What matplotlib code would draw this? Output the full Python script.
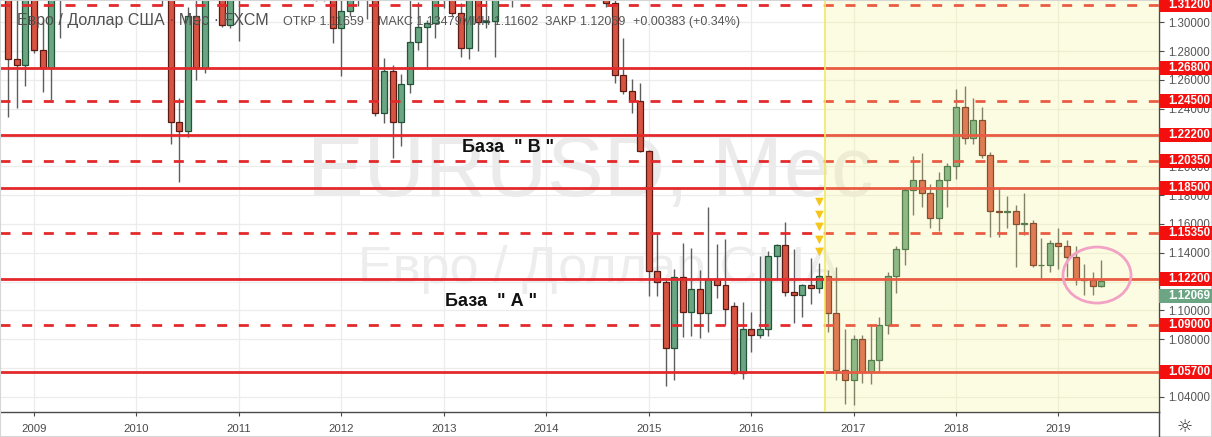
import matplotlib
matplotlib.use('Agg')
import matplotlib.pyplot as plt
import matplotlib.transforms as mtransforms
from matplotlib.patches import Rectangle, Ellipse
from matplotlib.lines import Line2D
import numpy as np
import pandas as pd

plt.rcParams['font.family'] = ['Liberation Sans', 'DejaVu Sans']
plt.rcParams['lines.scale_dashes'] = False

W, H = 1212, 437

# ---------------- data (monthly EURUSD, Oct 2008 .. Jun 2019) ----------------
months = pd.period_range('2008-10', '2019-06', freq='M')

open_ = [
    1.4078, 1.2745, 1.2700,
    1.3971, 1.2807, 1.2682, 1.3248, 1.3232, 1.4151, 1.4030, 1.4250, 1.4332, 1.4637, 1.4716, 1.5011,
    1.4331, 1.3864, 1.3627, 1.3509, 1.3294, 1.2307, 1.2244, 1.3043, 1.2682, 1.3630, 1.3935, 1.2982,
    1.3379, 1.3690, 1.3808, 1.4165, 1.4808, 1.4392, 1.4500, 1.4390, 1.4370, 1.3386, 1.3850, 1.3445,
    1.2961, 1.3078, 1.3316, 1.3343, 1.3236, 1.2370, 1.2661, 1.2307, 1.2571, 1.2863, 1.2967, 1.2994,
    1.3194, 1.3578, 1.3064, 1.2821, 1.3165, 1.2999, 1.3010, 1.3302, 1.3222, 1.3526, 1.3581, 1.3590,
    1.3745, 1.3485, 1.3802, 1.3770, 1.3869, 1.3634, 1.3692, 1.3389, 1.3131, 1.2634, 1.2522, 1.2453,
    1.2106, 1.1274, 1.1195, 1.0737, 1.1231, 1.0987, 1.1146, 1.0983, 1.1216, 1.1177, 1.1030, 1.0563,
    1.0868, 1.0831, 1.0872, 1.1379, 1.1452, 1.1130, 1.1104, 1.1174, 1.1157, 1.1240, 1.0980, 1.0586,
    1.0517, 1.0798, 1.0575, 1.0652, 1.0896, 1.1240, 1.1426, 1.1838, 1.1907, 1.1812, 1.1644, 1.1904,
    1.2005, 1.2414, 1.2194, 1.2323, 1.2079, 1.1693, 1.1686, 1.1690, 1.1602, 1.1605, 1.1313, 1.1317,
    1.1467, 1.1448, 1.1370, 1.1218, 1.1214, 1.1166,
]
high = [
    1.4300, 1.3300, 1.4719,
    1.4080, 1.3024, 1.3737, 1.3440, 1.4168, 1.4334, 1.4300, 1.4447, 1.4843, 1.5062, 1.5144, 1.5140,
    1.4579, 1.3988, 1.3819, 1.3693, 1.3389, 1.2474, 1.3105, 1.3333, 1.3651, 1.4159, 1.4282, 1.3499,
    1.3754, 1.3862, 1.4247, 1.4881, 1.4940, 1.4700, 1.4580, 1.4550, 1.4548, 1.4195, 1.3874, 1.3548,
    1.3234, 1.3487, 1.3386, 1.3348, 1.3283, 1.2751, 1.2700, 1.2640, 1.3171, 1.3140, 1.3013, 1.3308,
    1.3588, 1.3710, 1.3131, 1.3243, 1.3242, 1.3417, 1.3344, 1.3452, 1.3568, 1.3833, 1.3619, 1.3893,
    1.3774, 1.3826, 1.3967, 1.3906, 1.3993, 1.3700, 1.3700, 1.3445, 1.3221, 1.2887, 1.2605, 1.2578,
    1.2110, 1.1536, 1.1215, 1.1290, 1.1467, 1.1436, 1.1278, 1.1716, 1.1460, 1.1495, 1.1059, 1.1059,
    1.0988, 1.1375, 1.1410, 1.1464, 1.1616, 1.1427, 1.1186, 1.1366, 1.1327, 1.1278, 1.1300, 1.0874,
    1.0829, 1.0829, 1.0906, 1.0951, 1.1268, 1.1445, 1.1847, 1.2070, 1.2092, 1.1880, 1.1961, 1.2023,
    1.2537, 1.2556, 1.2476, 1.2414, 1.2097, 1.1852, 1.1791, 1.1734, 1.1816, 1.1625, 1.1500, 1.1486,
    1.1570, 1.1489, 1.1448, 1.1324, 1.1265, 1.1348,
]
low = [
    1.2342, 1.2404, 1.2557,
    1.2786, 1.2515, 1.2460, 1.2887, 1.3166, 1.3747, 1.3853, 1.4048, 1.4207, 1.4579, 1.4663, 1.4218,
    1.3857, 1.3434, 1.3267, 1.3113, 1.2154, 1.1890, 1.2203, 1.2599, 1.2647, 1.3620, 1.2969, 1.2959,
    1.2867, 1.3430, 1.3748, 1.4067, 1.3968, 1.4071, 1.3837, 1.4050, 1.3363, 1.3145, 1.3146, 1.2858,
    1.2624, 1.3040, 1.3115, 1.3025, 1.2349, 1.2300, 1.2057, 1.2141, 1.2509, 1.2807, 1.2675, 1.2890,
    1.3100, 1.3040, 1.2758, 1.2746, 1.2800, 1.2960, 1.2758, 1.3177, 1.3103, 1.3478, 1.3295, 1.3543,
    1.3478, 1.3477, 1.3705, 1.3673, 1.3588, 1.3502, 1.3367, 1.3105, 1.2580, 1.2500, 1.2370, 1.2098,
    1.1100, 1.1097, 1.0475, 1.0520, 1.0818, 1.0819, 1.0808, 1.0848, 1.1086, 1.0896, 1.0557, 1.0521,
    1.0711, 1.0809, 1.0823, 1.1216, 1.1097, 1.0911, 1.0952, 1.1045, 1.1122, 1.0851, 1.0518, 1.0352,
    1.0340, 1.0493, 1.0492, 1.0569, 1.0839, 1.1118, 1.1312, 1.1662, 1.1717, 1.1574, 1.1553, 1.1718,
    1.1915, 1.2152, 1.2155, 1.2055, 1.1510, 1.1508, 1.1575, 1.1301, 1.1526, 1.1301, 1.1215, 1.1269,
    1.1289, 1.1234, 1.1176, 1.1110, 1.1107, 1.1160,
]
close = [
    1.2745, 1.2700, 1.3971,
    1.2807, 1.2682, 1.3248, 1.3232, 1.4151, 1.4030, 1.4250, 1.4332, 1.4637, 1.4716, 1.5011, 1.4331,
    1.3864, 1.3627, 1.3509, 1.3294, 1.2307, 1.2244, 1.3043, 1.2682, 1.3630, 1.3935, 1.2982, 1.3379,
    1.3690, 1.3808, 1.4165, 1.4808, 1.4392, 1.4500, 1.4390, 1.4370, 1.3386, 1.3850, 1.3445, 1.2961,
    1.3078, 1.3316, 1.3343, 1.3236, 1.2370, 1.2661, 1.2307, 1.2571, 1.2863, 1.2967, 1.2994, 1.3194,
    1.3578, 1.3064, 1.2821, 1.3165, 1.2999, 1.3010, 1.3302, 1.3222, 1.3526, 1.3581, 1.3590, 1.3745,
    1.3485, 1.3802, 1.3770, 1.3869, 1.3634, 1.3692, 1.3389, 1.3131, 1.2634, 1.2522, 1.2453, 1.2106,
    1.1274, 1.1195, 1.0737, 1.1231, 1.0987, 1.1146, 1.0983, 1.1216, 1.1177, 1.1007, 1.0563, 1.0868,
    1.0831, 1.0872, 1.1379, 1.1452, 1.1130, 1.1104, 1.1174, 1.1157, 1.1240, 1.0980, 1.0586, 1.0517,
    1.0798, 1.0575, 1.0652, 1.0896, 1.1240, 1.1426, 1.1838, 1.1907, 1.1812, 1.1644, 1.1904, 1.2005,
    1.2414, 1.2194, 1.2323, 1.2079, 1.1693, 1.1686, 1.1690, 1.1602, 1.1605, 1.1313, 1.1317, 1.1467,
    1.1448, 1.1370, 1.1218, 1.1214, 1.1166, 1.1207,
]

years = list(range(2009, 2020))
year_labels = [str(y) for y in years]
price_ticks = [1.04, 1.06, 1.08, 1.10, 1.12, 1.14, 1.16, 1.18, 1.20, 1.22, 1.24, 1.26, 1.28, 1.30]
hidden_tick_labels = [1.06, 1.12, 1.22]   # fully covered by level labels in the original
solid_levels = [1.268, 1.222, 1.185, 1.122, 1.057]
dashed_levels = [1.312, 1.245, 1.2035, 1.1535, 1.090]
signal_month = pd.Period('2016-09', freq='M')
signal_prices = [1.1752, 1.1662, 1.1579, 1.1489, 1.1405]
last_price = 1.12069
legend_title = 'Евро / Доллар США · Мес · FXCM'
legend_items = ['ОТКР 1.11659', 'МАКС 1.13479', 'МИН 1.11602', 'ЗАКР 1.12069', '+0.00383 (+0.34%)']
base_labels = ['База  " В "', 'База  " А "']
watermark_main = 'EURUSD, Мес'
watermark_sub = 'Евро / Доллар США'

# ---------------- figure ----------------
fig = plt.figure(figsize=(W / 100, H / 100), dpi=100)
AX_R, AX_B = 1159, 412
ax = fig.add_axes([0, (H - AX_B) / H, AX_R / W, AX_B / H])

PX_M = 8.537   # pixels per month
X0 = 34        # pixel of Jan 2009
Y_SLOPE = 1440.8
ax.set_xlim(-X0 / PX_M, (AX_R - X0) / PX_M)
ax.set_ylim(1.268 - (AX_B - 68.3) / Y_SLOPE, 1.268 + 68.3 / Y_SLOPE)

def fpx(x, y):
    return x / W, 1 - y / H

x = np.array([(p.year - 2009) * 12 + p.month - 1 for p in months], dtype=float)
o = np.array(open_); h = np.array(high); l = np.array(low); c = np.array(close)
up = c >= o

# grid & axes
ax.set_xticks([(y - 2009) * 12 for y in years])
ax.set_xticklabels(year_labels)
ax.set_yticks(price_ticks)
ax.set_yticklabels(['' if any(abs(v - hv) < 1e-9 for hv in hidden_tick_labels) else f'{v:.5f}'
                    for v in price_ticks])
ax.yaxis.tick_right()
ax.grid(True, color='#ececec', lw=0.9, zorder=0)
ax.set_axisbelow(True)
ax.tick_params(axis='y', length=3.5, width=0.8, color='#4a4a4a', labelsize=8.3,
               labelcolor='#555555', pad=3)
ax.tick_params(axis='x', length=3, width=0.8, color='#4a4a4a', labelsize=8.2,
               labelcolor='#4a4a4a', pad=5.5)
for s in ('top', 'left'):
    ax.spines[s].set_visible(False)
for s in ('right', 'bottom'):
    ax.spines[s].set_color('#4a4a4a')
    ax.spines[s].set_linewidth(1.0)

# watermarks
ax.text(590 / AX_R, (AX_B - 196) / AX_B, watermark_main, transform=ax.transAxes,
        ha='center', va='baseline', fontsize=61, color='#ebebeb', zorder=1)
ax.text(599 / AX_R, (AX_B - 283) / AX_B, watermark_sub, transform=ax.transAxes,
        ha='center', va='baseline', fontsize=37.5, color='#ededed', zorder=1)

# candles
ax.vlines(x, l, h, color='#5d5d5d', lw=1.0, zorder=2)
body_h = np.maximum(np.abs(c - o), 0.0004)
ax.bar(x, body_h, bottom=np.minimum(o, c), width=0.7,
       color=np.where(up, '#6ba583', '#d75442'),
       edgecolor=np.where(up, '#225437', '#5b1a13'), linewidth=0.9, zorder=3)

# horizontal levels
for lv in solid_levels:
    ax.axhline(lv, color='#e3292b', lw=2.0, zorder=4)
for lv in dashed_levels:
    ax.axhline(lv, color='#e3292b', lw=2.0, ls=(0, (7.2, 8.4)), zorder=4)

# signal triangles
sm = (signal_month.year - 2009) * 12 + signal_month.month - 1
ax.scatter([sm] * len(signal_prices), signal_prices, marker='v', s=38,
           color='#f5c518', edgecolors='none', zorder=4.5)

# highlighted (yellow) zone
zone_start = (825 - X0) / PX_M
ax.axvspan(zone_start, ax.get_xlim()[1], facecolor=(0.97, 0.96, 0.55), alpha=0.25,
           lw=0, zorder=5)
ax.axvline(zone_start, color='#f0ea60', lw=1.2, zorder=5.5)

# pink ellipse
ax.add_patch(Ellipse(((1097 - X0) / PX_M, 1.1245), 68 / PX_M, 56 / Y_SLOPE,
                     fill=False, ec='#f2a2c5', lw=2.0, zorder=6))

# "База" labels
ax.text(*fpx(462, 147), base_labels[0], transform=fig.transFigure, fontsize=13,
        fontweight='bold', color='#111111', va='center', ha='left', zorder=7)
ax.text(*fpx(445, 302), base_labels[1], transform=fig.transFigure, fontsize=13,
        fontweight='bold', color='#111111', va='center', ha='left', zorder=7)

# legend text
fig.text(*fpx(17, 21), legend_title, fontsize=11.5, color='#505050', va='center', ha='left',
         zorder=8)
for xp, item in zip([283, 378, 462, 545, 633], legend_items):
    fig.text(*fpx(xp, 22), item, fontsize=9, color='#555555', va='center', ha='left', zorder=8)

# price labels on the right axis
trans = mtransforms.blended_transform_factory(fig.transFigure, ax.transData)
bh = 14 / Y_SLOPE
for lv in solid_levels + dashed_levels:
    r = Rectangle((AX_R / W, lv - bh / 2), (W - AX_R) / W, bh, transform=trans,
                  fc='#f40f0f', ec='none', zorder=10, clip_on=False)
    fig.add_artist(r)
    fig.text(1168 / W, lv, f'{lv:.5f}', transform=trans, color='white', fontsize=8.3,
             fontweight='bold', va='center', ha='left', zorder=11)

trans_last = mtransforms.offset_copy(trans, fig=fig, y=-15, units='dots')
fig.add_artist(Rectangle((AX_R / W, last_price - bh / 2), (W - AX_R) / W, bh,
                         transform=trans_last, fc='#6ba583', ec='none', zorder=10,
                         clip_on=False))
fig.text(1168 / W, last_price, f'{last_price:.5f}', transform=trans_last, color='white',
         fontsize=8.3, fontweight='bold', va='center', ha='left', zorder=11)

# bottom-right corner: separator and settings icon
fig.add_artist(Line2D([AX_R / W] * 2, [0, (H - AX_B) / H], transform=fig.transFigure,
                      color='#4a4a4a', lw=1.0))
fig.text(*fpx(1185, 427), '☼', fontsize=13, color='#333333', ha='center', va='center',
         family=['DejaVu Sans'])
fig.add_artist(Rectangle((0, 0), 1, 1, transform=fig.transFigure, fill=False,
                         ec='#d6d6d6', lw=1.5))

fig.savefig('out.png', dpi=100)
